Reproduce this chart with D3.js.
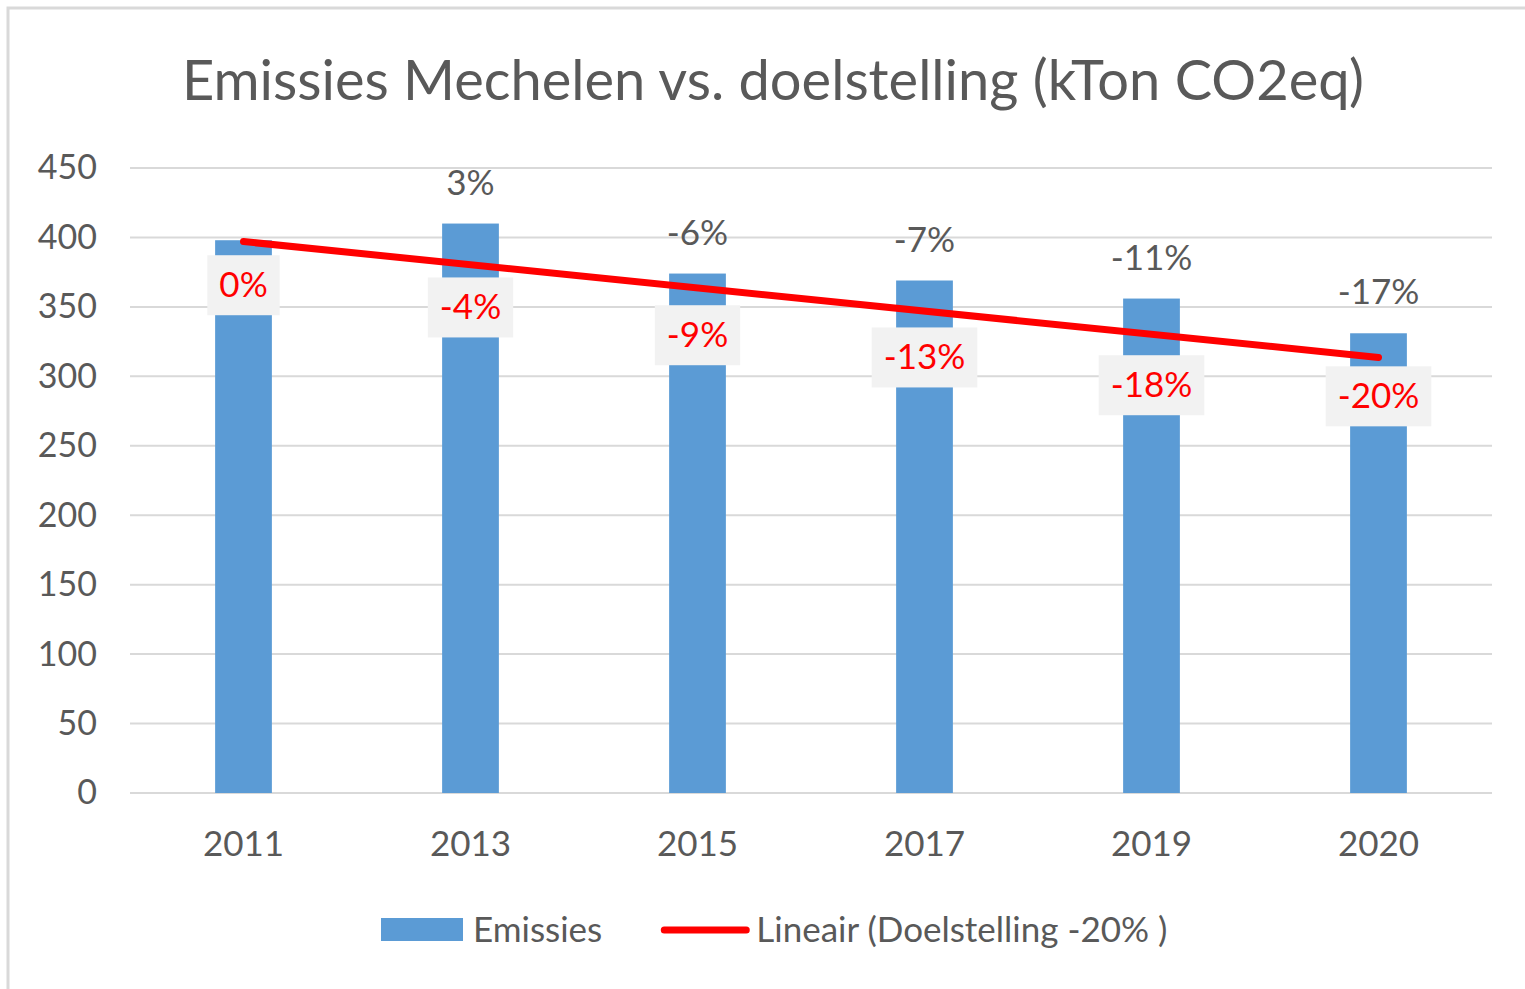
<!DOCTYPE html>
<html>
<head>
<meta charset="utf-8">
<script src="https://cdn.jsdelivr.net/npm/d3@7"></script>
<style>
  body { margin: 0; background: #fff; }
  svg { display: block; font-family: Lato, "Open Sans", sans-serif; }
</style>
</head>
<body>
<svg id="chart" width="1525" height="989"></svg>
<script>
const years = ["2011", "2013", "2015", "2017", "2019", "2020"];
const emissies = [398, 410, 374, 369, 356, 331];
const emissieLabels = ["", "3%", "-6%", "-7%", "-11%", "-17%"];
const doelstelling = [398, 382, 362, 346, 326, 318];
const doelLabels = ["0%", "-4%", "-9%", "-13%", "-18%", "-20%"];
const yTicks = [0, 50, 100, 150, 200, 250, 300, 350, 400, 450];

const svg = d3.select("#chart");
const textColor = "#595959";

// frame (only top and left edge visible in the picture)
svg.append("rect")
    .attr("x", 8).attr("y", 8)
    .attr("width", 1600).attr("height", 1100)
    .attr("fill", "none")
    .attr("stroke", "#d9d9d9")
    .attr("stroke-width", 3);

svg.append("text")
    .attr("x", 773).attr("y", 100)
    .attr("text-anchor", "middle")
    .attr("fill", textColor)
    .style("font-size", "56px")
    .text("Emissies Mechelen vs. doelstelling (kTon CO2eq)");

const x = d3.scaleBand()
    .domain(years)
    .range([130, 1492])
    .paddingInner(0.75)
    .paddingOuter(0.375);

const y = d3.scaleLinear()
    .domain([0, 450])
    .range([793, 168]);

// gridlines
svg.append("g")
    .selectAll("line")
    .data(yTicks)
    .join("line")
    .attr("x1", 130).attr("x2", 1492)
    .attr("y1", d => y(d)).attr("y2", d => y(d))
    .attr("stroke", "#d9d9d9")
    .attr("stroke-width", 2);

// y axis labels
const yAxis = svg.append("g")
    .attr("transform", "translate(97,0)")
    .call(d3.axisLeft(y).tickValues(yTicks).tickSize(0).tickPadding(0));
yAxis.select(".domain").remove();
yAxis.selectAll("text")
    .attr("fill", textColor)
    .style("font-size", "34px")
    .style("font-family", "Lato, sans-serif");

// x axis labels
const xAxis = svg.append("g")
    .attr("transform", "translate(0,793)")
    .call(d3.axisBottom(x).tickSize(0).tickPadding(38));
xAxis.select(".domain").remove();
xAxis.selectAll("text")
    .attr("fill", textColor)
    .style("font-size", "35px")
    .style("font-family", "Lato, sans-serif");

// bars
svg.append("g")
    .selectAll("rect")
    .data(emissies)
    .join("rect")
    .attr("x", (d, i) => x(years[i]))
    .attr("y", d => y(d))
    .attr("width", x.bandwidth())
    .attr("height", d => y(0) - y(d))
    .attr("fill", "#5b9bd5");

// labels above bars
svg.append("g")
    .selectAll("text")
    .data(emissieLabels)
    .join("text")
    .attr("x", (d, i) => x(years[i]) + x.bandwidth() / 2)
    .attr("y", (d, i) => y(emissies[i]) - 29)
    .attr("text-anchor", "middle")
    .attr("fill", textColor)
    .style("font-size", "35px")
    .text(d => d);

// linear trend of the target series
const xs = doelstelling.map((d, i) => i + 1);
const mx = d3.mean(xs), my = d3.mean(doelstelling);
const slope = d3.sum(xs, (v, i) => (v - mx) * (doelstelling[i] - my)) / d3.sum(xs, v => (v - mx) * (v - mx));
const trend = xs.map(v => my + slope * (v - mx));
const cx = i => x(years[i]) + x.bandwidth() / 2;

svg.append("line")
    .attr("x1", cx(0)).attr("y1", y(trend[0]))
    .attr("x2", cx(years.length - 1)).attr("y2", y(trend[trend.length - 1]))
    .attr("stroke", "#ff0000")
    .attr("stroke-width", 7)
    .attr("stroke-linecap", "round");

// target labels (below the invisible target points)
const tl = svg.append("g")
    .selectAll("g")
    .data(doelLabels)
    .join("g")
    .attr("transform", (d, i) => `translate(${cx(i)},${y(doelstelling[i]) + 45})`);
tl.append("rect").attr("class", "bg")
    .attr("fill", "#f2f2f2");
tl.append("text")
    .attr("text-anchor", "middle")
    .attr("dy", 12)
    .attr("fill", "#ff0000")
    .style("font-size", "35px")
    .text(d => d);
tl.each(function () {
    const g = d3.select(this);
    const w = g.select("text").node().getComputedTextLength() + 24;
    g.select("rect").attr("x", -w / 2).attr("y", -30).attr("width", w).attr("height", 60);
});

// legend
const legend = svg.append("g").attr("transform", "translate(381,930)");
legend.append("rect")
    .attr("x", 0).attr("y", -12)
    .attr("width", 82).attr("height", 23)
    .attr("fill", "#5b9bd5");
const t1 = legend.append("text")
    .attr("x", 92).attr("y", 12)
    .attr("fill", textColor)
    .style("font-size", "35px")
    .text("Emissies");
const off = 92 + t1.node().getComputedTextLength() + 62;
legend.append("line")
    .attr("x1", off).attr("x2", off + 82)
    .attr("y1", 0).attr("y2", 0)
    .attr("stroke", "#ff0000")
    .attr("stroke-width", 7)
    .attr("stroke-linecap", "round");
legend.append("text")
    .attr("x", off + 92).attr("y", 12)
    .attr("fill", textColor)
    .style("font-size", "35px")
    .text("Lineair (Doelstelling -20% )");
</script>
</body>
</html>
